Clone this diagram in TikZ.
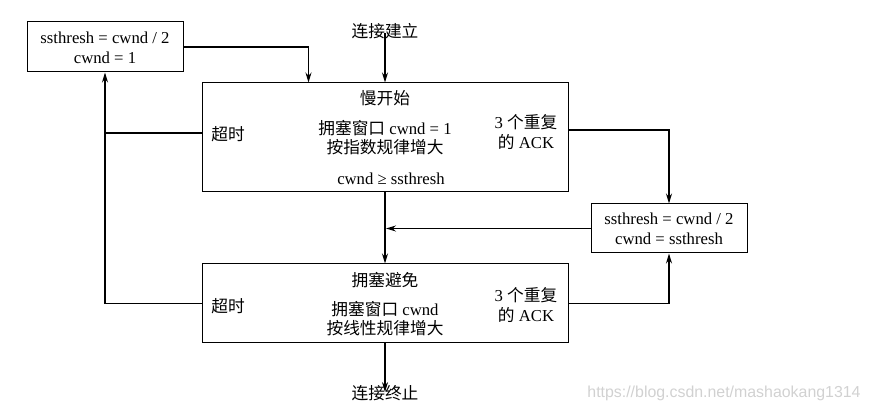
\documentclass[tikz,border=0pt]{standalone}
\usepackage{fontspec}
\setmainfont{Liberation Serif}
\newfontfamily\cjk{Noto Sans CJK SC}
\newfontfamily\wmfont{Liberation Sans}
\usetikzlibrary{arrows.meta,calc}
\begin{document}
\begin{tikzpicture}[x=1pt,y=-1pt,
  box/.style={draw,line width=1pt,inner sep=0pt},
  arr/.style={line width=1.3pt,-{Stealth[length=10pt,width=6pt]}},
  ln/.style={line width=1.3pt},
  txt/.style={inner sep=0pt,font=\fontsize{16.7}{18}\selectfont,align=center}]
\useasboundingbox (0,0) rectangle (870,411);
% boxes
\node[box,minimum width=156pt,minimum height=50pt] (tl) at (105,47) {};
\node[box,minimum width=366pt,minimum height=109pt] (ss) at (385,137.5) {};
\node[box,minimum width=366pt,minimum height=79pt] (ca) at (385,303.5) {};
\node[box,minimum width=156pt,minimum height=49pt] (rb) at (669,228.5) {};
% box texts
\node[txt] (tl1) at (105,38) {ssthresh = cwnd / 2};
\node[txt] (tl2) at (105,58) {cwnd = 1};
\node[txt] (rb1) at (669,219) {ssthresh = cwnd / 2};
\node[txt] (rb2) at (669,239) {cwnd = ssthresh};
\node[txt] (start) at (385,31) {\cjk 连接建立};
\node[txt] (stop) at (385,393) {\cjk 连接终止};
\node[txt] (ss1) at (385,98) {\cjk 慢开始};
\node[txt] (ss2) at (385,128) {{\cjk 拥塞窗口} cwnd = 1};
\node[txt] (ss3) at (385,147) {\cjk 按指数规律增大};
\node[txt] (ss4) at (391,179) {cwnd ≥ ssthresh};
\node[txt] (ss5) at (228,134) {\cjk 超时};
\node[txt] (ss6) at (526,122) {3 {\cjk 个重复}};
\node[txt] (ss7) at (526,142) {{\cjk 的} ACK};
\node[txt] (ca1) at (385,280) {\cjk 拥塞避免};
\node[txt] (ca2) at (385,309) {{\cjk 拥塞窗口} cwnd};
\node[txt] (ca3) at (385,328) {\cjk 按线性规律增大};
\node[txt] (ca4) at (228,306) {\cjk 超时};
\node[txt] (ca5) at (526,295) {3 {\cjk 个重复}};
\node[txt] (ca6) at (526,315) {{\cjk 的} ACK};
\node[inner sep=0pt,text=black!18,font=\wmfont\fontsize{15.9}{17}\selectfont] (wm) at (724,393) {https://blog.csdn.net/mashaokang1314};
% connectors
\draw[arr] ([yshift=6pt]start.south) -- (ss.north);
\draw[arr] (tl.east) -| ([xshift=107pt]ss.north west);
\draw[ln] ([yshift=4.5pt]ss.west) -- ([yshift=4.5pt]ss.west -| tl.south);
\draw[arr] (ca.west) -| (tl.south);
\draw[arr] ([yshift=7.5pt]ss.east) -| (rb.north);
\draw[arr] (rb.west) -- ([xshift=1pt]rb.west -| ss.south);
\draw[arr] (ss.south) -- (ca.north);
\draw[arr] (ca.east) -| (rb.south);
\draw[arr] (ca.south) -- ([yshift=-7pt]stop.north);
\end{tikzpicture}
\end{document}
